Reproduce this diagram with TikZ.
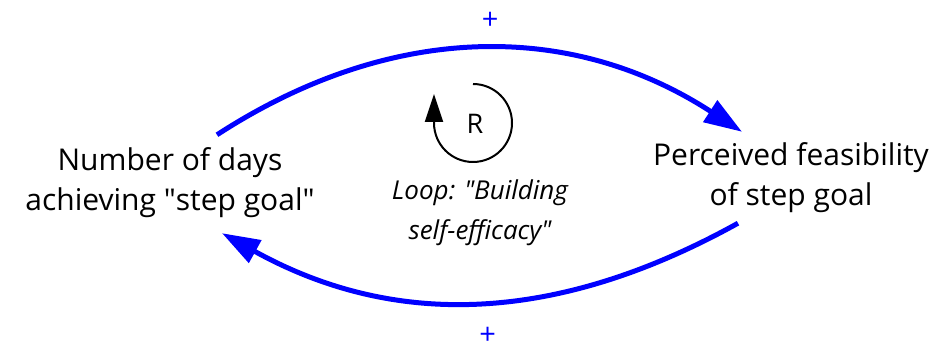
\documentclass[tikz,border=0pt]{standalone}
\usepackage{fontspec}
\setmainfont{Open Sans}
\usetikzlibrary{arrows.meta,positioning}
\tikzset{
	factor/.style={align=center, inner sep=0pt, minimum width=320pt, minimum height=76pt, font=\fontsize{30}{40}\selectfont},
	link/.style={draw=blue, line width=5pt, -{Triangle[length=38pt,width=25pt]}},
	polarity/.style={text=blue, inner sep=0pt, text height=16pt, text depth=0pt, font=\fontsize{29}{29}\selectfont},
	loopsign/.style={font=\fontsize{27}{27}\selectfont},
	looplabel/.style={align=center, font=\itshape\fontsize{26}{40}\selectfont}
}

\begin{document}
\begin{tikzpicture}[x=1pt, y=1pt]
		\useasboundingbox (0,0) rectangle (950,350);

		% Define nodes
		\node[factor] (days) at (170,167) {Number of days\\achieving \textquotedbl step goal\textquotedbl};
		\node[factor] (feas) at (791,172) {Perceived feasibility\\of step goal};
		\node[loopsign] (R) at (475,226) {R};
		\node[looplabel] (name) at (480,137) {Loop: \textquotedbl Building\\self-efficacy\textquotedbl};

		% Connect the nodes
		\draw[link] ([xshift=47pt,yshift=10pt]days.north) to[out=33, in=147]
			node[polarity, pos=0.52, yshift=28pt] (plus1) {+} ([xshift=-49pt,yshift=8pt]feas.north);
		\draw[link] ([xshift=-53pt,yshift=-7pt]feas.south) to[out=209, in=-29]
			node[polarity, pos=0.485, yshift=-35pt] (plus2) {+} ([xshift=52pt,yshift=-12pt]days.south);

		% Loop marker
		\draw[black, line width=2pt, -{Triangle[length=28pt,width=18pt]}]
			([shift={(-2pt,40pt)}]R.center) arc[start angle=90, end angle=-180, radius=39pt] -- ++(0,29pt);
	\end{tikzpicture}
\end{document}
